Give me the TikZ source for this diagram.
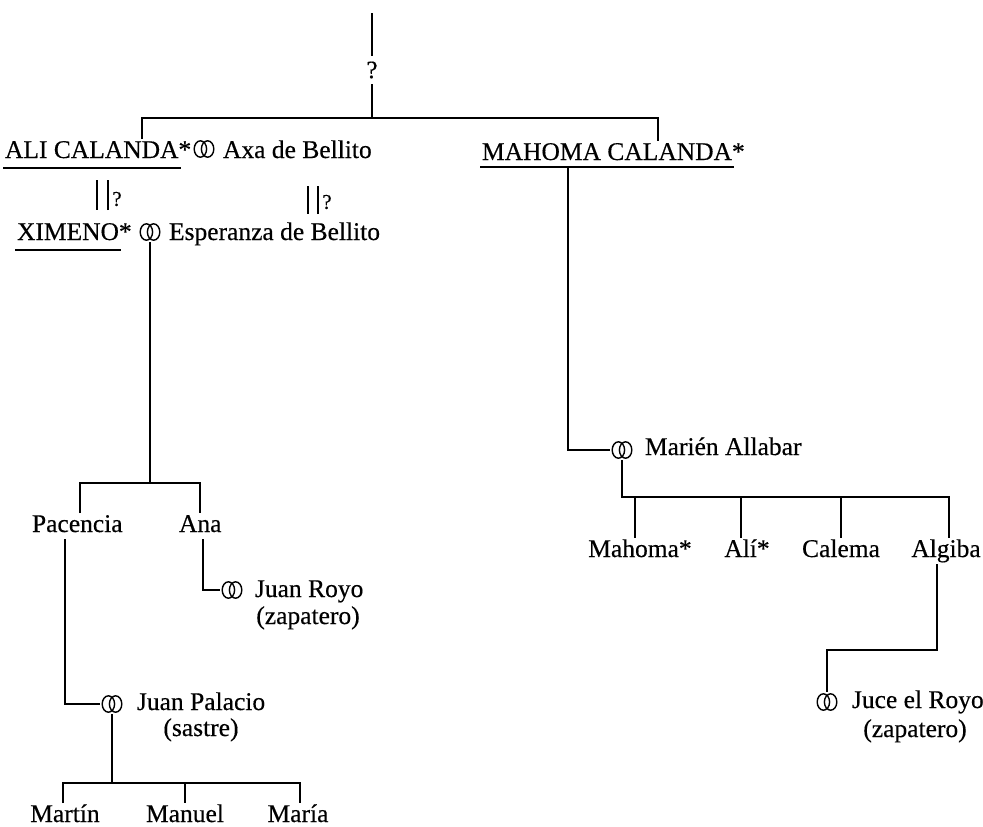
\documentclass[tikz,border=0pt]{standalone}
\usepackage{fontspec}
\setmainfont{Liberation Serif}[FakeBold=0.4]
\begin{document}
\begin{tikzpicture}[x=1pt,y=-1pt,line width=1.7pt,
  every node/.style={font=\fontsize{25.5}{28}\selectfont},
  lbl/.style={inner sep=0pt,outer sep=2pt,text height=17pt,text depth=5pt,anchor=base west},
  lblc/.style={lbl,anchor=base},
  qtop/.style={font=\fontsize{25}{28}\selectfont,inner sep=0pt,outer sep=6pt},
  qmark/.style={font=\fontsize{21}{24}\selectfont,inner sep=0pt},
  rings/.style={inner sep=0pt,minimum width=22pt,minimum height=19pt,fill=white,
    path picture={\draw[line width=1.4pt]
      ([xshift=-3.6pt]path picture bounding box.center) ellipse (6.2pt and 8.2pt)
      ([xshift=3.6pt]path picture bounding box.center) ellipse (6.2pt and 8.2pt);}},
  ul/.style={line width=1.4pt}]
\useasboundingbox (0,0) rectangle (983,827);

% --- first generation
\coordinate (top) at (372,13);
\node[qtop] (q0) at (372,70) {?};
\coordinate (j0) at (372,118);

\node[lbl] (ali) at (3,158) {ALI CALANDA\rlap{*}};
\node[rings] (r1) at (204,149) {};
\node[lbl] (axa) at (221,158) {Axa de Bellito};
\node[lbl] (mah) at (480,160) {MAHOMA CALANDA\rlap{*}};

\draw[ul] ([yshift=-10pt]ali.base west) -- ([yshift=-10pt]ali.base east);
\draw[ul] ([yshift=-7pt]mah.base west) -- ([yshift=-7pt]mah.base east);

\draw (top) -- (q0.north);
\draw (q0.south) -- (j0);
\draw ([xshift=139pt]ali.north west) |- (j0) -| ([xshift=178pt]mah.north west);

% --- uncertain descent
\node[lbl] (xim) at (15,240) {XIMENO\rlap{*}};
\node[rings] (r2) at (150,232) {};
\node[lbl] (esp) at (167,240) {Esperanza de Bellito};
\draw[ul] ([yshift=-10pt]xim.base west) -- ([yshift=-10pt]xim.base east);

\coordinate (d1) at (97,180);
\coordinate (d2) at (308,186);
\draw (d1) -- ++(0,30) ++(11,0) -- ++(0,-30);
\draw (d2) -- ++(0,28) ++(10,0) -- ++(0,-28);
\node[qmark] (q1) at (117,199) {?};
\node[qmark] (q2) at (327,202) {?};

% --- children of Ximeno
\coordinate (jX) at (150,483);
\node[lbl] (pac) at (30,532) {Pacencia};
\node[lbl] (ana) at (177,532) {Ana};
\draw (r2.south) -- (jX);
\draw ([xshift=50pt]pac.north west) |- (jX) -| ([xshift=23pt]ana.north west);

\node[rings] (r3) at (232,590) {};
\node[lbl] (roy) at (253,597) {Juan Royo};
\node[lblc] (roy2) at (308,624) {(zapatero)};
\draw ([xshift=26pt]ana.south west) |- (r3.west);

\node[rings] (r4) at (112,704) {};
\node[lbl] (pal) at (135,710) {Juan Palacio};
\node[lblc] (sas) at (201,736) {(sastre)};
\draw ([xshift=35pt]pac.south west) |- (r4.west);

\coordinate (jP) at (112,783);
\node[lblc] (mrt) at (65,822) {Martín};
\node[lblc] (mnl) at (185,822) {Manuel};
\node[lblc] (mra) at (298,822) {María};
\draw (r4.south) -- (jP);
\draw ([xshift=-2pt]mrt.north) |- (jP) -| ([xshift=2pt]mra.north);
\draw (mnl.north |- jP) -- (mnl.north);

% --- line of Mahoma Calanda
\node[rings] (r5) at (622,450) {};
\node[lbl] (mar) at (643,455) {Marién Allabar};
\draw ([xshift=88pt]mah.south west) |- (r5.west);

\coordinate (jM) at (622,497);
\node[lblc] (mh) at (640,557) {Mahoma*};
\node[lblc] (al) at (747,557) {Alí*};
\node[lblc] (cal) at (841,557) {Calema};
\node[lblc] (alg) at (946,557) {Algiba};
\draw (r5.south) -- (jM) -| ([xshift=3pt]alg.north);
\draw ([xshift=-5pt]mh.north |- jM) -- ([xshift=-5pt]mh.north);
\draw ([xshift=-6pt]al.north |- jM) -- ([xshift=-6pt]al.north);
\draw (cal.north |- jM) -- (cal.north);

\node[rings] (r6) at (827,702) {};
\node[lbl] (juc) at (850,708) {Juce el Royo};
\node[lblc] (zap2) at (915,737) {(zapatero)};
\draw ([xshift=-9pt]alg.south) -- ++(0,86) -| (r6.north);
\end{tikzpicture}
\end{document}
